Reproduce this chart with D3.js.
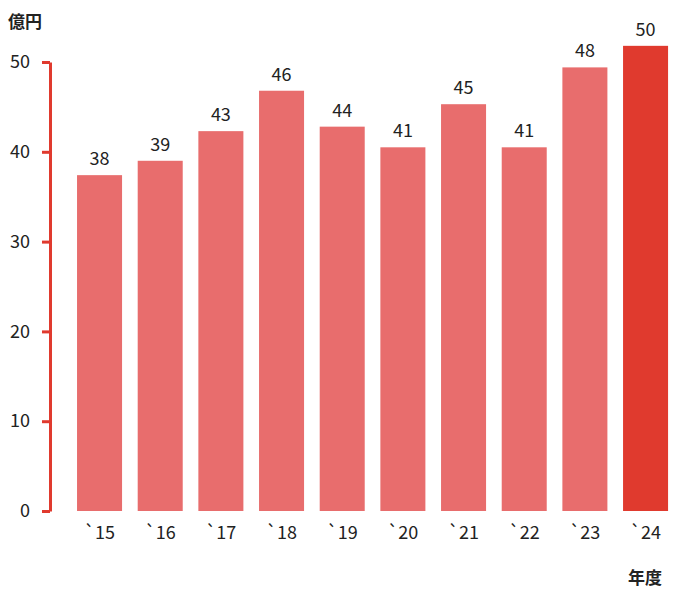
<!DOCTYPE html>
<html><head><meta charset="utf-8">
<script src="https://cdn.jsdelivr.net/npm/d3@7"></script>
<style>body{margin:0;background:#fff}text{font-family:"Noto Sans CJK JP","Noto Sans",sans-serif;fill:#222}</style>
</head><body><svg id="c" width="674" height="590"></svg>
<script>
const categories=["`15","`16","`17","`18","`19","`20","`21","`22","`23","`24"];
const values=[37.4,39.0,42.3,46.8,42.8,40.5,45.3,40.5,49.4,51.8];
const valueLabels=["38","39","43","46","44","41","45","41","48","50"];
const yTicks=[0,10,20,30,40,50];
const svg=d3.select("#c");
const x=d3.scaleBand().domain(categories).range([64.9,680.2]).paddingInner(0.258).paddingOuter(0.2);
const y=d3.scaleLinear().domain([0,50]).range([511,62]);
const red="#E03A2E";
svg.selectAll("rect").data(values).join("rect")
 .attr("x",(d,i)=>x(categories[i])).attr("width",x.bandwidth())
 .attr("y",d=>y(d)).attr("height",d=>y(0)-y(d))
 .attr("fill",(d,i)=>i===values.length-1?red:"#E86D6D");
svg.selectAll("text.v").data(values).join("text").attr("class","v")
 .attr("x",(d,i)=>x(categories[i])+x.bandwidth()/2).attr("y",d=>y(d)-10)
 .attr("text-anchor","middle").attr("font-size",18).text((d,i)=>valueLabels[i]);
const ya=svg.append("g").attr("transform","translate(50,0)")
 .call(d3.axisLeft(y).tickValues(yTicks).tickSize(8).tickSizeOuter(0));
ya.select(".domain").attr("stroke",red).attr("stroke-width",3);
ya.selectAll(".tick line").attr("stroke",red).attr("stroke-width",3).attr("x2",-8);
ya.selectAll(".tick text").attr("font-size",18).attr("x",-20).style("fill","#222");
ya.attr("font-family",null);
const xa=svg.append("g").attr("transform","translate(0,511)")
 .call(d3.axisBottom(x).tickSize(0));
xa.select(".domain").remove();
xa.selectAll(".tick text").attr("font-size",18).attr("dy","1.4em").style("fill","#222");
svg.append("text").attr("x",8).attr("y",28).attr("font-size",17).attr("font-weight","bold").text("億円");
svg.append("text").attr("x",628).attr("y",584).attr("font-size",17).attr("font-weight","bold").text("年度");
</script></body></html>
